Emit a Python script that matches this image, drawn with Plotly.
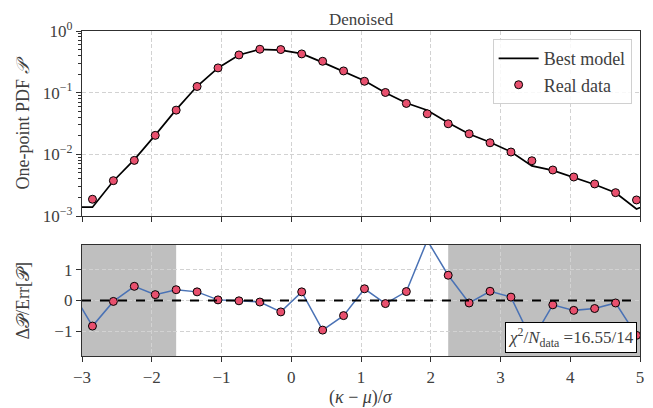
import plotly.graph_objects as go

# ---------------- data ----------------
x_data = [-2.85, -2.55, -2.25, -1.95, -1.65, -1.35, -1.05, -0.75, -0.45, -0.15,
          0.15, 0.45, 0.75, 1.05, 1.35, 1.65, 1.95, 2.25, 2.55, 2.85,
          3.15, 3.45, 3.75, 4.05, 4.35, 4.65, 4.95]
pdf_data = [1.87e-3, 3.74e-3, 7.98e-3, 0.0203, 0.0521, 0.126, 0.252, 0.409, 0.506, 0.50,
            0.425, 0.323, 0.225, 0.153, 0.1007, 0.0669, 0.0454, 0.0313, 0.0215, 0.0154,
            0.0109, 7.87e-3, 5.57e-3, 4.29e-3, 3.31e-3, 2.39e-3, 1.82e-3]

x_model = [-3.15, -2.85, -2.55, -2.25, -1.95, -1.65, -1.35, -1.05, -0.75, -0.45, -0.15,
           0.15, 0.45, 0.75, 1.05, 1.35, 1.65, 1.95, 2.25, 2.55, 2.85,
           3.15, 3.45, 3.75, 4.05, 4.35, 4.65, 4.95, 5.25]
pdf_model = [1.39e-3, 1.39e-3, 3.7e-3, 8.2e-3, 0.0205, 0.053, 0.127, 0.252, 0.409, 0.505, 0.49,
             0.43, 0.31, 0.218, 0.156, 0.100, 0.068, 0.052, 0.0325, 0.0214, 0.0157,
             0.011, 6.5e-3, 5.5e-3, 4.2e-3, 3.25e-3, 2.38e-3, 1.3e-3, 1.77e-3]

x_resid = [-3.15] + x_data
resid = [0.31, -0.83, -0.03, 0.46, 0.19, 0.35, 0.28, 0.02, -0.01, -0.05, -0.37,
         0.28, -0.96, -0.49, 0.38, -0.10, 0.29, 1.95, 0.82, -0.08, 0.30,
         0.11, -1.30, -0.14, -0.32, -0.26, -0.08, -1.13]

fit_range = [-1.65, 2.25]
x_limits = [-3, 5]
chi2_text = "16.55/14"

x_ticks = [-3, -2, -1, 0, 1, 2, 3, 4, 5]
x_ticktext = ["\u22123", "\u22122", "\u22121", "0", "1", "2", "3", "4", "5"]
y_ticks = [1e-3, 1e-2, 1e-1, 1]
y_ticktext = ["10<sup>\u22123</sup>", "10<sup>\u22122</sup>", "10<sup>\u22121</sup>", "10<sup>0</sup>"]
r_ticks = [-1, 0, 1]
r_ticktext = ["\u22121", "0", "1"]

# ---------------- style ----------------
FONT = "Liberation Serif"
TXT = "#404040"
SPINE = "#303030"
GRID = "#d2d2d2"
PINK = "#e8506e"
BLUE = "#4a72b5"

minor_vals = [m * 10.0 ** e for e in (-3, -2, -1) for m in range(2, 10)]

fig = go.Figure()

fig.add_trace(go.Scatter(x=x_model, y=pdf_model, mode="lines", name="Best model",
                         line=dict(color="black", width=1.7), xaxis="x", yaxis="y"))
fig.add_trace(go.Scatter(x=x_data, y=pdf_data, mode="markers", name="Real data",
                         marker=dict(color=PINK, size=8, line=dict(color="black", width=1)),
                         xaxis="x", yaxis="y"))
fig.add_trace(go.Scatter(x=x_resid, y=resid, mode="lines+markers", showlegend=False,
                         line=dict(color=BLUE, width=1.5),
                         marker=dict(color=PINK, size=8, line=dict(color="black", width=1)),
                         xaxis="x2", yaxis="y2"))

axis_common = dict(showline=True, mirror=True, linecolor=SPINE, linewidth=1.3,
                   ticks="outside", ticklen=5, tickwidth=1.1, tickcolor=SPINE,
                   showgrid=True, gridcolor=GRID, griddash="4px,2.5px", gridwidth=1,
                   zeroline=False, automargin=False,
                   tickfont=dict(family=FONT, size=17, color=TXT))

# page body adds an 8px offset, so the figure is 645x400 placed at (8, 8)
top_lo = (356 - 216) / 325
bot_hi = (356 - 245) / 325

fig.update_layout(
    width=645, height=400,
    margin=dict(l=74, r=13, t=23, b=52, autoexpand=False),
    paper_bgcolor="white", plot_bgcolor="white",
    font=dict(family=FONT, color=TXT),
    xaxis=dict(domain=[0, 1], range=x_limits, anchor="y", tickmode="array",
               tickvals=x_ticks, showticklabels=False, **axis_common),
    yaxis=dict(domain=[top_lo, 1], type="log", range=[-3, 0], anchor="x",
               tickmode="array", tickvals=y_ticks, ticktext=y_ticktext,
               minor=dict(tickmode="array", tickvals=minor_vals, ticks="outside",
                          ticklen=2.5, tickcolor=SPINE, showgrid=False),
               **axis_common),
    xaxis2=dict(domain=[0, 1], range=x_limits, anchor="y2", tickmode="array",
                tickvals=x_ticks, ticktext=x_ticktext, **axis_common),
    yaxis2=dict(domain=[0, bot_hi], range=[-1.8, 1.8], anchor="x2", tickmode="array",
                tickvals=r_ticks, ticktext=r_ticktext, **axis_common),
    legend=dict(x=0.985, y=0.975, xanchor="right", yanchor="top",
                bgcolor="rgba(255,255,255,0.85)", bordercolor="#d0d0d0", borderwidth=1,
                font=dict(family=FONT, size=18, color=TXT), itemwidth=40),
    showlegend=True,
)

# shaded regions outside the fitted range
fig.add_shape(type="rect", xref="x2", yref="y2 domain", x0=x_limits[0], x1=fit_range[0],
              y0=0, y1=1, fillcolor="#bfbfbf", line=dict(width=0), layer="below")
fig.add_shape(type="rect", xref="x2", yref="y2 domain", x0=fit_range[1], x1=x_limits[1],
              y0=0, y1=1, fillcolor="#bfbfbf", line=dict(width=0), layer="below")
# zero line
fig.add_shape(type="line", xref="x2 domain", yref="y2", x0=0, x1=1, y0=0, y1=0,
              line=dict(color="black", width=1.8, dash="dash"), layer="above")

# title
fig.add_annotation(text="Denoised", xref="paper", yref="paper", x=0.5, y=1,
                   xanchor="center", yanchor="bottom", yshift=0, showarrow=False,
                   font=dict(family=FONT, size=17, color=TXT))
# axis titles
fig.add_annotation(text="One-point PDF <i>\U0001D4AB</i>", xref="paper", yref="paper",
                   x=0, xshift=-60, y=(top_lo + 1) / 2, textangle=-90, showarrow=False,
                   xanchor="center", yanchor="middle",
                   font=dict(family=FONT, size=18, color=TXT))
fig.add_annotation(text="\u0394\U0001D4AB/Err[\U0001D4AB]", xref="paper", yref="paper",
                   x=0, xshift=-60, y=bot_hi / 2, textangle=-90, showarrow=False,
                   xanchor="center", yanchor="middle",
                   font=dict(family=FONT, size=18, color=TXT))
fig.add_annotation(text="(<i>\u03ba</i> \u2212 <i>\u03bc</i>)/<i>\u03c3</i>", xref="paper", yref="paper",
                   x=0.5, y=0, yshift=-29, showarrow=False, xanchor="center", yanchor="top",
                   font=dict(family=FONT, size=18, color=TXT))
# chi2 box
fig.add_annotation(text="<i>\u03c7</i><sup>2</sup>/<i>N</i><sub>data</sub> =" + chi2_text,
                   xref="x2 domain", yref="y2 domain", x=0.995, y=0.025,
                   xanchor="right", yanchor="bottom", showarrow=False,
                   bgcolor="white", bordercolor="black", borderwidth=1, borderpad=2,
                   font=dict(family=FONT, size=17, color=TXT))

fig.write_html("out.html")
